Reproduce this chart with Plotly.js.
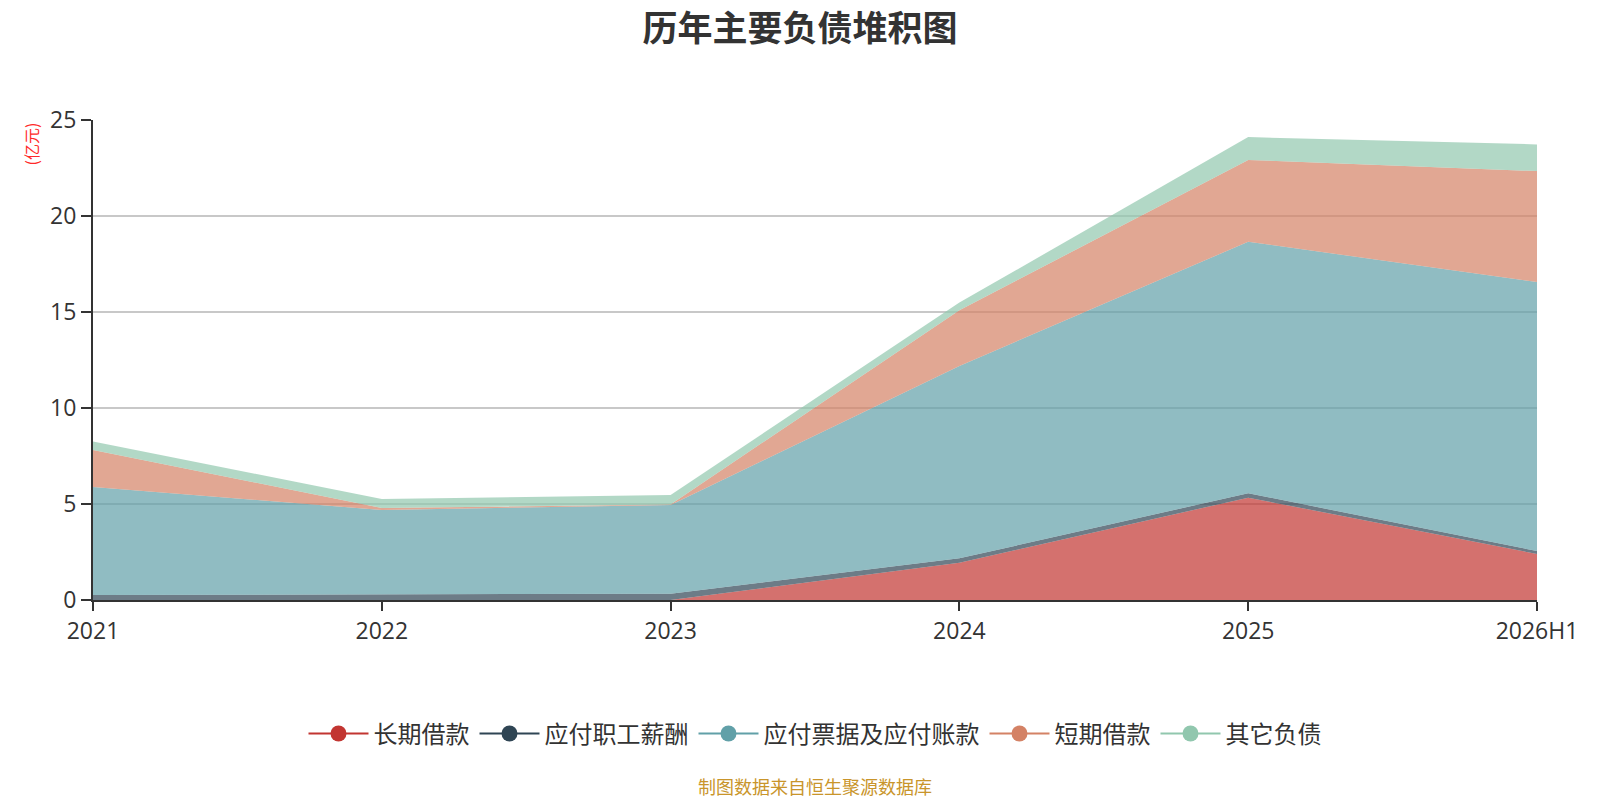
<!DOCTYPE html>
<html>
<head>
<meta charset="utf-8">
<script src="https://cdn.plot.ly/plotly-3.0.1.min.js"></script>
<style>
html,body{margin:0;padding:0;background:#fff;}
#chart{width:1600px;height:800px;}
</style>
</head>
<body>
<div id="chart"></div>
<script>
var categories = ["2021", "2022", "2023", "2024", "2025", "2026H1"];
var longTermLoans = [0, 0, 0, 1.94, 5.33, 2.40];
var payroll = [0.26, 0.30, 0.33, 0.23, 0.23, 0.15];
var notesPayable = [5.63, 4.39, 4.62, 10.02, 13.10, 14.01];
var shortTermLoans = [1.92, 0.10, 0.03, 2.90, 4.26, 5.78];
var otherLiabilities = [0.44, 0.47, 0.49, 0.40, 1.19, 1.39];
var seriesNames = ["长期借款", "应付职工薪酬", "应付票据及应付账款", "短期借款", "其它负债"];
var yTicks = [0, 5, 10, 15, 20, 25];

var colors = ["#c23531", "#2f4554", "#61a0a8", "#d48265", "#91c7ae"];
var fills = ["rgba(194,53,49,0.7)", "rgba(47,69,84,0.7)", "rgba(97,160,168,0.7)", "rgba(212,130,101,0.7)", "rgba(145,199,174,0.7)"];
var seriesData = [longTermLoans, payroll, notesPayable, shortTermLoans, otherLiabilities];

var font = "Open Sans, Noto Sans CJK SC, sans-serif";
var traces = [];
seriesData.forEach(function (vals, i) {
  traces.push({
    type: "scatter",
    mode: "lines",
    x: categories,
    y: vals,
    name: seriesNames[i],
    stackgroup: "one",
    line: {width: 0, color: colors[i]},
    fillcolor: fills[i],
    showlegend: false,
    hoverinfo: "x+y+name"
  });
});
seriesData.forEach(function (vals, i) {
  traces.push({
    type: "scatter",
    mode: "lines+markers",
    x: [categories[0]],
    y: [null],
    name: seriesNames[i],
    line: {width: 2, color: colors[i]},
    marker: {size: 22, color: colors[i]},
    showlegend: true,
    hoverinfo: "skip"
  });
});

var layout = {
  width: 1600,
  height: 800,
  paper_bgcolor: "#fff",
  plot_bgcolor: "#fff",
  margin: {l: 93, r: 63, t: 120, b: 200},
  font: {family: font, color: "#333"},
  title: {
    text: "<b>历年主要负债堆积图</b>",
    font: {family: "Noto Sans CJK SC, sans-serif", size: 35, color: "#333"},
    x: 0.5, xanchor: "center",
    y: 0.964, yanchor: "middle"
  },
  xaxis: {
    type: "category",
    range: [0, 5],
    showgrid: false,
    showline: true,
    linecolor: "#333",
    linewidth: 2,
    ticks: "outside",
    ticklen: 9,
    tickwidth: 2,
    tickcolor: "#333",
    tickfont: {family: font, size: 23, color: "#333"},
    zeroline: false,
    fixedrange: true
  },
  yaxis: {
    range: [0, 25],
    tickvals: yTicks,
    ticktext: yTicks.map(String),
    showgrid: true,
    gridcolor: "#c8c8c8",
    gridwidth: 1.5,
    showline: true,
    linecolor: "#333",
    linewidth: 2,
    ticks: "outside",
    ticklen: 10,
    tickwidth: 2,
    tickcolor: "#333",
    tickfont: {family: font, size: 23, color: "#333"},
    zeroline: false,
    fixedrange: true
  },
  legend: {
    orientation: "h",
    x: 0.5, xanchor: "center",
    y: -0.279, yanchor: "middle",
    font: {family: "Noto Sans CJK SC, sans-serif", size: 24, color: "#333"},
    itemwidth: 60,
    traceorder: "normal",
    bgcolor: "rgba(0,0,0,0)"
  },
  annotations: [
    {
      text: "(亿元)",
      xref: "paper", yref: "paper",
      x: -0.043, y: 1.0, xanchor: "center", yanchor: "top",
      textangle: -90,
      showarrow: false,
      font: {family: "Noto Sans CJK SC, sans-serif", size: 16, color: "#ff2a2a"}
    },
    {
      text: "制图数据来自恒生聚源数据库",
      xref: "paper", yref: "paper",
      x: 0.5, y: -0.388, xanchor: "center", yanchor: "middle",
      showarrow: false,
      font: {family: "Noto Sans CJK SC, sans-serif", size: 18, color: "#c9952b"}
    }
  ]
};

Plotly.newPlot("chart", traces, layout, {displayModeBar: false, staticPlot: true});
</script>
</body>
</html>
